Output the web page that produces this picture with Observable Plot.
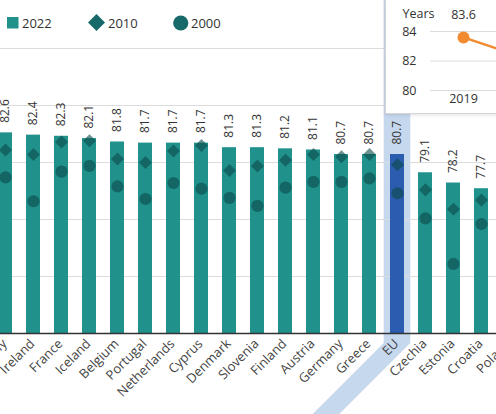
<!DOCTYPE html>
<html><head><meta charset="utf-8">
<script src="https://cdn.jsdelivr.net/npm/d3@7"></script>
<script src="https://cdn.jsdelivr.net/npm/@observablehq/plot@0.6"></script>
<style>
html,body{margin:0;padding:0;overflow:hidden;background:#fff;}
#wrap{position:relative;width:496px;height:414px;overflow:hidden;font-family:"Open Sans",sans-serif;color:#333;}
#chart{position:absolute;left:-60px;top:0;}
.lg{position:absolute;top:13px;height:20px;display:flex;align-items:center;font-size:13px;color:#333;}
.lg svg{display:block;}
#inset{position:absolute;left:385px;top:-1px;width:240px;height:113px;background:#fff;border:1px solid #d4d4d4;box-shadow:0 1px 4px rgba(0,0,0,0.12);}
#inset svg{position:absolute;left:0;top:0;}
</style></head>
<body><div id="wrap"><div id="chart"></div><div id="legend"></div><div id="inset"></div></div>
<script>
// ---- data ----
const countries = ["Italy","Ireland","France","Iceland","Belgium","Portugal","Netherlands","Cyprus","Denmark","Slovenia","Finland","Austria","Germany","Greece","EU","Czechia","Estonia","Croatia","Poland"];
const v2022 = [82.6,82.4,82.3,82.1,81.8,81.7,81.7,81.7,81.3,81.3,81.2,81.1,80.7,80.7,80.7,79.1,78.2,77.7,77.4];
const v2010 = [81.1,80.7,81.8,81.9,80.3,80.0,81.0,81.5,79.3,79.7,80.2,80.7,80.5,80.7,79.8,77.6,75.9,76.7,76.4];
const v2000 = [78.7,76.6,79.2,79.7,77.9,76.8,78.2,77.7,76.9,76.2,77.8,78.3,78.3,78.6,77.3,75.1,71.1,74.6,73.8];
const highlight = "EU";
const yTicks = [65,70,75,80,85,90];
const legendLabels = ["2022","2010","2000"];

const insetYears = [2019, 2020];
const insetValues = [83.6, 82.4];
const insetTicks = [80, 82, 84];
const insetTitle = "Years";

// ---- build ----
const rows = countries.map((c,i)=>({country:c, v2022:v2022[i], v2010:v2010[i], v2000:v2000[i]}));
const insetRows = insetYears.map((y,i)=>({year:y, value:insetValues[i]}));

const teal = "#21918c", blue = "#2a5caf", mark = "#0a4a4a";
const diamond = {draw(ctx, size){ const h = Math.sqrt(size/2); ctx.moveTo(0,-h); ctx.lineTo(h,0); ctx.lineTo(0,h); ctx.lineTo(-h,0); ctx.closePath(); }};

const H = 414, mT = 48, mB = 81;
const chart = Plot.plot({
  width: 615, height: H,
  marginLeft: 39.65, marginRight: 20.2, marginTop: mT, marginBottom: mB,
  style: {maxWidth: "none", background: "transparent", overflow: "visible", fontFamily: "Open Sans, sans-serif"},
  x: {domain: countries, padding: 0.5, axis: null},
  y: {domain: [yTicks[0], yTicks[yTicks.length-1]], axis: null},
  marks: [
    Plot.ruleY(yTicks.slice(1), {stroke: "#dcdcdc", strokeWidth: 1}),
    Plot.barY(rows.filter(d=>d.country!==highlight), {x: "country", y1: yTicks[0], y2: "v2022", fill: teal}),
    Plot.barY(rows.filter(d=>d.country===highlight), {x: "country", y1: yTicks[0], y2: "v2022", fill: blue}),
    Plot.dot(rows, {x: "country", y: "v2010", symbol: diamond, r: 5.2, fill: mark, fillOpacity: 0.6, stroke: "none"}),
    Plot.dot(rows, {x: "country", y: "v2000", r: 6.1, fill: mark, fillOpacity: 0.6, stroke: "none"}),
    Plot.text(rows, {x: "country", y: "v2022", text: d => d.v2022.toFixed(1), rotate: -90, textAnchor: "start", dy: -10, fill: "#333", fontSize: 12}),
    Plot.text(rows, {x: "country", frameAnchor: "bottom", text: "country", rotate: -45, textAnchor: "end", dx: 2, dy: 11, fill: "#444", fontSize: 13}),
    Plot.ruleY([yTicks[0]], {stroke: "#333", strokeWidth: 1.5})
  ]
});
document.getElementById("chart").appendChild(chart);

// highlight band behind the EU bar, following the rotated label
(function(){
  const xs = chart.scale("x");
  let x0;
  if (typeof xs.apply === "function") x0 = xs.apply(highlight);
  else x0 = d3.scaleBand(xs.domain, xs.range).paddingInner(xs.paddingInner).paddingOuter(xs.paddingOuter).align(xs.align)(highlight);
  const cx = x0 + xs.bandwidth/2;
  const half = xs.step*0.475;
  const bend = H - mB + 10, bottom = H + 20, shift = bottom - bend;
  const p = d3.path();
  p.moveTo(cx-half, 0); p.lineTo(cx+half, 0); p.lineTo(cx+half, bend);
  p.lineTo(cx+half-shift, bottom); p.lineTo(cx-half-shift, bottom); p.lineTo(cx-half, bend); p.closePath();
  d3.select(chart).insert("path", "g").attr("d", p.toString()).attr("fill", "#c6d8ee");
})();

// legend
(function(){
  const lg = document.getElementById("legend");
  const lefts = [7, 88, 173];
  const icons = [
    `<svg width="12" height="12"><rect width="11.5" height="11.5" fill="${teal}"/></svg>`,
    `<svg width="18" height="18"><polygon points="8.5,0 17,8.5 8.5,17 0,8.5" fill="#17696a"/></svg>`,
    `<svg width="16" height="16"><circle cx="7.75" cy="8" r="7.6" fill="#17696a"/></svg>`
  ];
  legendLabels.forEach((t,i)=>{
    const d = document.createElement("div");
    d.className = "lg"; d.style.left = lefts[i]+"px";
    d.innerHTML = icons[i] + `<span style="margin-left:${i===0?3:2}px">${t}</span>`;
    lg.appendChild(d);
  });
})();

// inset tooltip chart
const orange = "#f28a30";
const inset = Plot.plot({
  width: 240, height: 113, marginLeft: 44, marginRight: 0, marginTop: 31, marginBottom: 23,
  style: {maxWidth: "none", background: "transparent", overflow: "visible", fontFamily: "Open Sans, sans-serif"},
  x: {type: "point", domain: insetYears, range: [77, 130], padding: 0, axis: null},
  y: {domain: [insetTicks[0], insetTicks[insetTicks.length-1]], axis: null},
  marks: [
    Plot.ruleY(insetTicks, {stroke: "#dcdcdc"}),
    Plot.text(insetTicks, {y: d => d, text: d => String(d), frameAnchor: "left", textAnchor: "end", dx: -14, fontSize: 12.5, fill: "#333"}),
    Plot.text([insetTitle], {text: d => d, frameAnchor: "top-left", textAnchor: "start", dx: -28, dy: -22, fontSize: 12.5, fill: "#333"}),
    Plot.line(insetRows, {x: "year", y: "value", stroke: orange, strokeWidth: 2.5}),
    Plot.dot(insetRows, {x: "year", y: "value", r: 6, fill: orange, stroke: "none"}),
    Plot.text(insetRows, {x: "year", y: "value", text: d => d.value.toFixed(1), dy: -22, fontSize: 12.5, fill: "#333"}),
    Plot.text(insetRows, {x: "year", text: d => String(d.year), frameAnchor: "bottom", dy: 12, fontSize: 12.5, fill: "#333"})
  ]
});
document.getElementById("inset").appendChild(inset);
</script>
</body></html>
